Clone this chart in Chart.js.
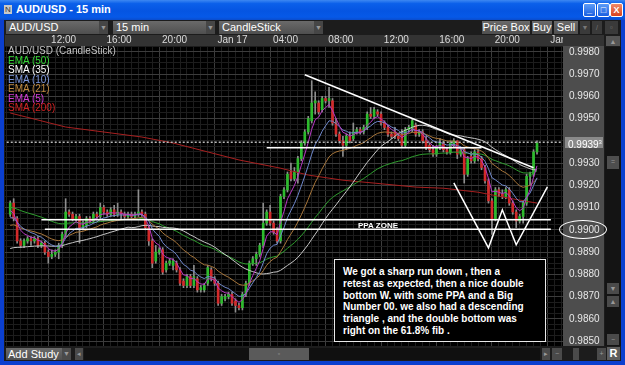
<!DOCTYPE html>
<html>
<head>
<meta charset="utf-8">
<script src="https://cdn.jsdelivr.net/npm/chart.js@4.4.0/dist/chart.umd.min.js"></script>
<style>
  body { margin: 0; width: 625px; height: 365px; overflow: hidden; background: #0b3fcf; font-family: "Liberation Sans", Arial, sans-serif; }
  .abs { position: absolute; }
  #titlebar { left: 0; top: 0; width: 625px; height: 20px; background: linear-gradient(#3d88f2 0%, #0b60ea 18%, #0555e2 55%, #0659e8 85%, #0a4ccc 100%); }
  #title { left: 16px; top: 3px; color: #fff; font-weight: bold; font-size: 11px; }
  #icon { left: 4px; top: 5px; width: 8px; height: 9px; background: #c8c8c8; font-size: 8px; color: #333; line-height: 9px; text-align: center; }
  .wbtn { top: 3px; width: 13px; height: 14px; border: 1px solid #fff; border-radius: 2px; background: linear-gradient(#5d9cf7, #1a5fe0); color: #fff; font-size: 9px; font-weight: bold; text-align: center; line-height: 13px; box-sizing: border-box; }
  #body { left: 4px; top: 20px; width: 617px; height: 341px; background: #1c1c1c; }
  .dd { top: 21px; height: 13px; background: linear-gradient(#6a6a6a, #4f4f4f); color: #fff; font-size: 11px; line-height: 13px; box-sizing: border-box; padding-left: 3px; }
  .dd span { position: absolute; right: 0; top: 0; width: 9px; height: 13px; background: #464646; color: #999; font-size: 7px; text-align: center; }
  .tb { top: 21px; height: 13px; background: linear-gradient(#6a6a6a, #4f4f4f); color: #fff; font-size: 11px; line-height: 13px; text-align: center; }
  .sb { background: #4a4a4a; color: #999; font-size: 7px; text-align: center; line-height: 11px; }
  #legend { left: 8px; top: 46px; font-size: 10px; line-height: 9.5px; }
  #ppa { left: 358px; top: 221px; color: #fff; font-weight: bold; font-size: 8px; }
  #note { left: 334px; top: 259px; width: 212px; height: 83px; box-sizing: border-box; border: 1px solid #e8e8e8; background: #000; color: #fff; font-weight: bold; font-size: 10px; line-height: 11.8px; padding: 6px 0 0 8px; white-space: nowrap; }
  #tag { left: 565px; top: 137px; width: 38px; height: 11px; background: #8a8a8a; color: #fff; font-size: 10px; line-height: 11px; padding-left: 3px; box-sizing: border-box; }
  #tag sup { font-size: 6px; vertical-align: 4px; }
  #oval { left: 559px; top: 220px; width: 48px; height: 19px; box-sizing: border-box; border: 1.5px solid #fff; border-radius: 50%; }
</style>
</head>
<body>
<div class="abs" id="titlebar"></div>
<div class="abs" id="icon">N</div>
<div class="abs" id="title">AUD/USD - 15 min</div>
<div class="abs wbtn" style="left:583px">_</div>
<div class="abs wbtn" style="left:597px">□</div>
<div class="abs wbtn" style="left:610px;background:linear-gradient(#f08a6a,#d8421e)">X</div>
<div class="abs" id="body"></div>

<div class="abs dd" style="left:6px;width:102px">AUD/USD<span>▼</span></div>
<div class="abs dd" style="left:113px;width:102px">15 min<span>▼</span></div>
<div class="abs dd" style="left:219px;width:104px">CandleStick<span>▼</span></div>
<div class="abs tb" style="left:482px;width:48px">Price Box</div>
<div class="abs tb" style="left:532px;width:20px">Buy</div>
<div class="abs tb" style="left:554px;width:24px">Sell</div>
<div class="abs tb" style="left:580px;width:10px;background:#3a3a3a;color:#777;font-size:7px">▼</div>
<div class="abs tb" style="left:592px;width:10px;background:#3a3a3a;color:#777;font-size:7px">/</div>
<div class="abs tb" style="left:605px;width:13px;background:#3a3a3a;color:#777;font-size:8px">▫</div>

<canvas id="c" class="abs" style="left:5px;top:35px" width="599" height="311"></canvas>

<!-- right scrollbar -->
<div class="abs sb" style="left:606px;top:36px;width:14px;height:10px;background:#555">▲</div>
<div class="abs" style="left:605px;top:47px;width:16px;height:299px;background:#141414"></div>
<div class="abs sb" style="left:607px;top:156px;width:12px;height:13px;background:#4e4e4e">=</div>
<div class="abs sb" style="left:607px;top:283px;width:12px;height:11px">▼</div>
<div class="abs sb" style="left:607px;top:296px;width:12px;height:11px">▲</div>
<div class="abs sb" style="left:607px;top:334px;width:12px;height:11px">−</div>

<!-- bottom bar -->
<div class="abs" style="left:6px;top:348px;width:56px;height:12px;background:linear-gradient(#6a6a6a,#4f4f4f);color:#fff;font-size:11px;line-height:12px;padding-left:2px;box-sizing:border-box">Add Study</div>
<div class="abs sb" style="left:62px;top:348px;width:9px;height:12px">▼</div>
<div class="abs sb" style="left:75px;top:348px;width:8px;height:12px">◂</div>
<div class="abs" style="left:84px;top:348px;width:456px;height:12px;background:#101010"></div>
<div class="abs sb" style="left:249px;top:348px;width:60px;height:12px;background:#5a5a5a">▫</div>
<div class="abs sb" style="left:542px;top:348px;width:8px;height:12px">▸</div>
<div class="abs sb" style="left:552px;top:348px;width:10px;height:12px">−</div>
<div class="abs" style="left:573px;top:348px;width:6px;height:12px;background:#4a4a4a"></div>
<div class="abs sb" style="left:597px;top:348px;width:9px;height:12px">+</div>
<div class="abs" style="left:607px;top:347px;width:13px;height:13px;background:#5e5e5e;color:#fff;font-weight:bold;font-size:11px;text-align:center;line-height:13px">R</div>

<div class="abs" id="legend">
  <div style="color:#c4c4c4">AUD/USD (CandleStick)</div>
  <div style="color:#35d835">EMA (50)</div>
  <div style="color:#ffffff">SMA (35)</div>
  <div style="color:#7d97dc">EMA (10)</div>
  <div style="color:#c08a40">EMA (21)</div>
  <div style="color:#d23cd6">EMA (5)</div>
  <div style="color:#d02222">SMA (200)</div>
</div>
<div class="abs" id="ppa">PPA ZONE</div>
<div class="abs" id="note">We got a sharp run down , then a<br>retest as expected, then a nice double<br>bottom W. with some PPA and a Big<br>Number 00. we also had a descending<br>triangle , and the double bottom was<br>right on the 61.8% fib .</div>
<div class="abs" id="tag">0.9939<sup>3</sup></div>
<div class="abs" id="oval"></div>

<script>
// 15 min candles, first one at Jan 16 09:15
const opens = [
  0.9907,0.9912,0.9905,0.9895,0.9893,0.9895,0.9896,0.9895,0.9896,0.9893,
  0.9894,0.9890,0.9888,0.9889,0.9890,0.9893,0.9898,0.9908,0.9907,0.9905,
  0.9906,0.9901,0.9902,0.9905,0.9904,0.9907,0.9906,0.9910,0.9908,0.9907,
  0.9909,0.9907,0.9908,0.9907,0.9906,0.9907,0.9906,0.9907,0.9908,0.9907,
  0.9901,0.9895,0.9886,0.9890,0.9891,0.9882,0.9885,0.9884,0.9885,0.9882,
  0.9877,0.9875,0.9879,0.9875,0.9878,0.9873,0.9873,0.9876,0.9882,0.9878,
  0.9876,0.9867,0.9869,0.9870,0.9871,0.9868,0.9866,0.9865,0.9871,0.9876,
  0.9885,0.9887,0.9889,0.9893,0.9903,0.9908,0.9903,0.9900,0.9895,0.9915,
  0.9918,0.9926,0.9923,0.9926,0.9932,0.9939,0.9944,0.9949,0.9957,0.9957,
  0.9954,0.9959,0.9958,0.9958,0.9948,0.9943,0.9940,0.9938,0.9942,0.9941,
  0.9944,0.9945,0.9944,0.9946,0.9952,0.9951,0.9953,0.9952,0.9948,0.9946,
  0.9943,0.9944,0.9942,0.9943,0.9938,0.9945,0.9945,0.9947,0.9943,0.9944,
  0.9940,0.9938,0.9936,0.9934,0.9937,0.9939,0.9936,0.9935,0.9938,0.9940,
  0.9934,0.9936,0.9925,0.9933,0.9931,0.9935,0.9932,0.9928,0.9922,0.9913,
  0.9905,0.9918,0.9916,0.9915,0.9918,0.9912,0.9908,0.9904,0.9906,0.9912,
  0.9924,0.9925,0.9935
];
const highs = [
  0.9913,0.9914,0.9906,0.9896,0.9896,0.9897,0.9897,0.9897,0.9897,0.9895,
  0.9895,0.9891,0.9891,0.9891,0.9894,0.9899,0.9914,0.9909,0.9908,0.9907,
  0.9907,0.9904,0.9906,0.9906,0.9908,0.9908,0.9912,0.9911,0.9909,0.9910,
  0.9911,0.9912,0.9909,0.9908,0.9908,0.9908,0.9908,0.9918,0.9909,0.9908,
  0.9902,0.9896,0.9893,0.9892,0.9892,0.9886,0.9887,0.9887,0.9886,0.9883,
  0.9878,0.9880,0.9880,0.9884,0.9879,0.9875,0.9876,0.9884,0.9883,0.9879,
  0.9877,0.9871,0.9871,0.9872,0.9872,0.9869,0.9867,0.9872,0.9877,0.9886,
  0.9888,0.9890,0.9894,0.9912,0.9909,0.9911,0.9904,0.9901,0.9916,0.9919,
  0.9926,0.9930,0.9928,0.9933,0.9940,0.9945,0.9951,0.9967,0.9962,0.9958,
  0.9960,0.9960,0.9964,0.9959,0.9950,0.9944,0.9942,0.9943,0.9944,0.9948,
  0.9946,0.9946,0.9947,0.9953,0.9955,0.9955,0.9954,0.9953,0.9949,0.9947,
  0.9944,0.9946,0.9943,0.9945,0.9946,0.9947,0.9950,0.9948,0.9945,0.9945,
  0.9942,0.9939,0.9938,0.9938,0.9941,0.9940,0.9937,0.9940,0.9941,0.9940,
  0.9937,0.9937,0.9933,0.9935,0.9936,0.9936,0.9933,0.9929,0.9923,0.9914,
  0.9919,0.9919,0.9918,0.9919,0.9919,0.9913,0.9909,0.9907,0.9913,0.9925,
  0.9926,0.9936,0.9940
];
const lows = [
  0.9906,0.9904,0.9894,0.9892,0.9892,0.9894,0.9893,0.9894,0.9892,0.9892,
  0.9889,0.9885,0.9887,0.9888,0.9887,0.9892,0.9897,0.9906,0.9904,0.9904,
  0.9894,0.9900,0.9901,0.9903,0.9903,0.9905,0.9905,0.9907,0.9906,0.9906,
  0.9906,0.9906,0.9905,0.9905,0.9905,0.9905,0.9905,0.9906,0.9906,0.9900,
  0.9893,0.9883,0.9885,0.9889,0.9880,0.9881,0.9884,0.9882,0.9881,0.9875,
  0.9874,0.9874,0.9874,0.9874,0.9872,0.9872,0.9872,0.9875,0.9877,0.9875,
  0.9866,0.9866,0.9868,0.9869,0.9866,0.9863,0.9864,0.9864,0.9870,0.9875,
  0.9884,0.9884,0.9888,0.9892,0.9902,0.9902,0.9898,0.9894,0.9894,0.9914,
  0.9917,0.9922,0.9922,0.9921,0.9931,0.9938,0.9943,0.9948,0.9952,0.9952,
  0.9953,0.9957,0.9955,0.9947,0.9942,0.9939,0.9933,0.9936,0.9939,0.9940,
  0.9943,0.9943,0.9943,0.9945,0.9950,0.9950,0.9951,0.9947,0.9945,0.9942,
  0.9941,0.9941,0.9940,0.9937,0.9937,0.9944,0.9944,0.9942,0.9942,0.9939,
  0.9936,0.9935,0.9933,0.9933,0.9936,0.9935,0.9934,0.9934,0.9937,0.9932,
  0.9933,0.9921,0.9924,0.9930,0.9930,0.9931,0.9927,0.9921,0.9912,0.9898,
  0.9904,0.9915,0.9914,0.9914,0.9911,0.9907,0.9901,0.9903,0.9903,0.9911,
  0.9920,0.9924,0.9934
];
const closes = [
  0.9912,0.9905,0.9895,0.9893,0.9895,0.9896,0.9895,0.9896,0.9893,0.9894,
  0.9890,0.9888,0.9889,0.9890,0.9893,0.9898,0.9908,0.9907,0.9905,0.9906,
  0.9901,0.9902,0.9905,0.9904,0.9907,0.9906,0.9910,0.9908,0.9907,0.9909,
  0.9907,0.9908,0.9907,0.9906,0.9907,0.9906,0.9907,0.9908,0.9907,0.9901,
  0.9895,0.9885,0.9890,0.9891,0.9881,0.9885,0.9886,0.9886,0.9882,0.9876,
  0.9875,0.9879,0.9875,0.9879,0.9873,0.9874,0.9875,0.9883,0.9878,0.9876,
  0.9867,0.9870,0.9870,0.9871,0.9867,0.9866,0.9865,0.9871,0.9876,0.9885,
  0.9887,0.9889,0.9893,0.9903,0.9908,0.9903,0.9899,0.9895,0.9915,0.9918,
  0.9925,0.9923,0.9926,0.9932,0.9939,0.9944,0.9950,0.9957,0.9958,0.9953,
  0.9959,0.9958,0.9959,0.9948,0.9943,0.9940,0.9938,0.9942,0.9940,0.9944,
  0.9945,0.9944,0.9946,0.9952,0.9951,0.9954,0.9952,0.9948,0.9946,0.9943,
  0.9942,0.9942,0.9941,0.9938,0.9945,0.9946,0.9949,0.9943,0.9944,0.9940,
  0.9937,0.9936,0.9934,0.9937,0.9939,0.9936,0.9935,0.9939,0.9940,0.9934,
  0.9936,0.9925,0.9932,0.9931,0.9935,0.9932,0.9928,0.9922,0.9913,0.9905,
  0.9918,0.9916,0.9915,0.9918,0.9912,0.9908,0.9904,0.9906,0.9912,0.9924,
  0.9925,0.9935,0.9939
];
const currentPrice = 0.99393;

// indicator levels just left of the screen (read at the left edge)
const emaSeeds = { 5: 0.9907, 10: 0.9904, 21: 0.9901, 50: 0.9910 };
const sma35Before = 0.9891;

// SMA(200) read at a few candles (needs far more history than is shown)
const sma200Idx = [0, 16, 38, 47, 57, 66, 78, 86, 96, 105, 117, 125, 135, 144, 152];
const sma200Val = [0.99525, 0.99462, 0.99417, 0.9939, 0.9935, 0.99314, 0.99277, 0.99246, 0.99223, 0.9921, 0.99192, 0.99187, 0.99169, 0.99142, 0.9912];

// hand drawn studies (candle index, price)
const trendIdx = [85, 151];
const trendPrice = [0.99697, 0.99279];
const resistIdx = [74, 136];
const resistPrice = [0.99369, 0.99369];
const ppaTopIdx = [9, 156];
const ppaTopPrice = [0.99045, 0.99045];
const ppaLowIdx = [10, 156];
const ppaLowPrice = [0.99003, 0.99003];
const wIdx = [128, 138, 142, 146, 155];
const wPrice = [0.99211, 0.98919, 0.99090, 0.98933, 0.99193];

const tickTimes = ['Jan 16 12:00', 'Jan 16 16:00', 'Jan 16 20:00', 'Jan 17 00:00', 'Jan 17 04:00',
                   'Jan 17 08:00', 'Jan 17 12:00', 'Jan 17 16:00', 'Jan 17 20:00', 'Jan 18 00:00'];
const tickLabels = ['12:00', '16:00', '20:00', 'Jan 17', '04:00', '08:00', '12:00', '16:00', '20:00', 'Jan 18'];

// time slots on the axis: one empty slot before the first candle
const slots = [];
for (let k = 0; k < 161; k++) {
  const d = new Date(Date.UTC(2012, 0, 16, 9, 0) + k * 15 * 60000);
  const hh = String(d.getUTCHours()).padStart(2, '0');
  const mm = String(d.getUTCMinutes()).padStart(2, '0');
  slots.push('Jan ' + d.getUTCDate() + ' ' + hh + ':' + mm);
}

function ema(values, n, seed) {
  const k = 2 / (n + 1);
  let e = seed;
  return values.map(v => (e = e + k * (v - e)));
}
function sma(values, n, before) {
  const hist = Array(n - 1).fill(before).concat(values);
  return values.map((v, i) => {
    let s = 0;
    for (let t = i; t < i + n; t++) s += hist[t];
    return s / n;
  });
}

const onSlots = arr => [null].concat(arr);
const pts = (idx, price) => idx.map((j, i) => ({ x: slots[j + 1], y: price[i] }));

const up = '#2dbb2d', down = '#d22a2a';
const bodyColor = ctx => {
  const j = ctx.dataIndex - 1;
  return closes[j] >= opens[j] ? up : down;
};

const sma200Data = slots.map(() => null);
sma200Idx.forEach((j, i) => { sma200Data[j + 1] = sma200Val[i]; });

const maLine = (data, color) => ({
  type: 'line', data, borderColor: color, borderWidth: 1, pointRadius: 0, order: 2, spanGaps: true
});
const drawn = (data, color, dash) => ({
  type: 'line', data, borderColor: color, borderWidth: 1.5, pointRadius: 0, order: 1, borderDash: dash || []
});

const panels = {
  id: 'panels',
  beforeDraw(chart) {
    const { ctx, chartArea: a, width } = chart;
    ctx.save();
    ctx.fillStyle = '#000';
    ctx.fillRect(a.left, a.top, a.right - a.left, a.bottom - a.top);
    ctx.fillStyle = '#333333';
    ctx.fillRect(0, 0, width, a.top);
    ctx.restore();
  },
  afterDatasetsDraw(chart) {
    const { ctx, chartArea: a, width, height } = chart;
    ctx.save();
    ctx.fillStyle = '#333333';
    ctx.fillRect(a.right, 0, width - a.right, a.top);
    ctx.fillStyle = '#4d4d4d';
    ctx.fillRect(a.right, a.top, width - a.right, height - a.top);
    ctx.restore();
  }
};

const isMajorPrice = v => Math.abs(v * 1000 - Math.round(v * 1000)) < 1e-6;
const noPad = s => { s.paddingTop = 0; s.paddingBottom = 0; s.paddingLeft = 0; s.paddingRight = 0; };

new Chart(document.getElementById('c'), {
  type: 'bar',
  data: {
    labels: slots,
    datasets: [
      drawn(pts(trendIdx, trendPrice), '#ffffff'),
      drawn(pts(resistIdx, resistPrice), '#ffffff'),
      drawn(pts(ppaTopIdx, ppaTopPrice), '#ffffff'),
      drawn(pts(ppaLowIdx, ppaLowPrice), '#ffffff'),
      drawn(pts(wIdx, wPrice), '#ffffff'),
      drawn([{ x: slots[0], y: currentPrice }, { x: slots[slots.length - 1], y: currentPrice }], '#b8b8b8', [2, 2]),
      maLine(onSlots(ema(closes, 5, emaSeeds[5])), '#b838c4'),
      maLine(onSlots(ema(closes, 10, emaSeeds[10])), '#6f88cc'),
      maLine(onSlots(ema(closes, 21, emaSeeds[21])), '#a8763a'),
      maLine(onSlots(sma(closes, 35, sma35Before)), '#c8c8c8'),
      maLine(onSlots(ema(closes, 50, emaSeeds[50])), '#2f9f2f'),
      maLine(sma200Data, '#a82020'),
      {
        type: 'bar', order: 3, grouped: false, barThickness: 2, minBarLength: 1,
        data: onSlots(opens.map((o, j) => [o, closes[j]])),
        backgroundColor: bodyColor, borderWidth: 0
      },
      {
        type: 'bar', order: 4, grouped: false, barThickness: 1,
        data: onSlots(lows.map((l, j) => [l, highs[j]])),
        backgroundColor: '#8e8e8e', borderWidth: 0
      }
    ]
  },
  options: {
    responsive: false,
    animation: false,
    devicePixelRatio: 1,
    layout: { padding: 0 },
    plugins: { legend: { display: false }, tooltip: { enabled: false } },
    scales: {
      x: {
        position: 'top',
        offset: true,
        afterFit(s) { s.height = 11; noPad(s); },
        border: { display: false },
        grid: {
          offset: false,
          drawTicks: false,
          color: ctx => (ctx.tick && ctx.tick.label ? '#3c3c3c' : '#1d1d1d')
        },
        ticks: {
          autoSkip: false,
          maxRotation: 0,
          align: 'start',
          padding: 0,
          color: '#dcdcdc',
          font: { size: 10, family: '"Liberation Sans", Arial, sans-serif' },
          callback(v, k) {
            const t = tickTimes.indexOf(slots[k]);
            if (t >= 0) return ' ' + tickLabels[t];
            return k % 2 === 0 ? '' : null;
          }
        }
      },
      y: {
        position: 'right',
        min: 0.98478,
        max: 0.99826,
        afterFit(s) { s.width = 41; noPad(s); },
        border: { display: false },
        grid: {
          drawTicks: false,
          color: ctx => (ctx.tick && ctx.tick.label ? '#3c3c3c' : '#1d1d1d')
        },
        ticks: {
          stepSize: 0.00025,
          includeBounds: false,
          autoSkip: false,
          padding: 6,
          z: 1,
          color: '#e8e8e8',
          font: { size: 10, family: '"Liberation Sans", Arial, sans-serif' },
          callback(v) {
            if (!isMajorPrice(v)) return '';
            if (Math.abs(v - currentPrice) < 0.0005) return '';
            return v.toFixed(4);
          }
        }
      }
    }
  },
  plugins: [panels]
});
</script>
</body>
</html>
